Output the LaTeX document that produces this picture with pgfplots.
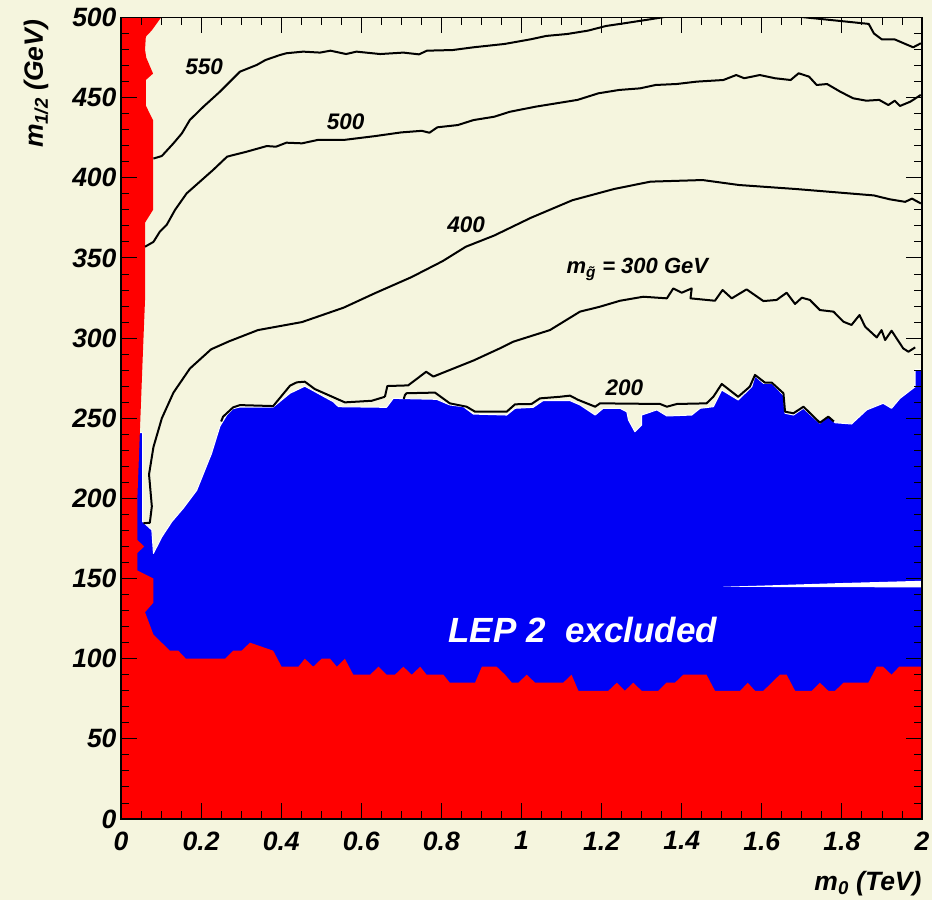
\documentclass[border=0pt]{standalone}
\usepackage{fontspec}
\setmainfont{Liberation Sans}
\usepackage{pgfplots}
\pgfplotsset{compat=1.18}
\definecolor{bgc}{RGB}{245,245,222}
\definecolor{myred}{RGB}{255,0,0}
\definecolor{myblue}{RGB}{0,0,245}
\newcommand{\bi}[1]{\fontsize{#1}{#1}\selectfont\bfseries\itshape}
\begin{document}
\begin{tikzpicture}
\path[use as bounding box, fill=bgc] (-121bp,-81bp) rectangle (811bp,819bp);
\begin{axis}[name=ax, at={(0,0)}, anchor=south west,
  width=801bp, height=801.5bp, scale only axis,
  xmin=0, xmax=2, ymin=0, ymax=500,
  xtick={0,0.2,0.4,0.6,0.8,1,1.2,1.4,1.6,1.8,2},
  ytick={0,50,100,150,200,250,300,350,400,450,500},
  minor x tick num=3, minor y tick num=4,
  major tick length=16bp, minor tick length=8bp,
  tick align=inside,
  tick style={black, line width=0.9bp},
  axis line style={black, line width=1.3bp},
  axis on top,
  /pgf/number format/assume math mode=true,
  ticklabel style={font={\bi{26.5bp}}},
  xticklabel style={yshift=-9bp},
  yticklabel style={xshift=-1bp},
]
% LEP 2 excluded (blue)
\addplot[fill=myblue, draw=white, line width=1bp] coordinates {
(0.03,241) (0.054,241) (0.054,185.5) (0.077,180.3) (0.081,165.7) (0.102,176) (0.127,185.5) (0.156,194) (0.189,205) (0.226,228) (0.247,245) (0.264,252) (0.280,256) (0.297,257) (0.380,257) (0.422,265.6) (0.459,270) (0.484,266.6) (0.530,260.3) (0.543,257.2) (0.663,256.8) (0.680,262.4) (0.788,261.8) (0.821,258.3) (0.855,257.2) (0.880,252.6) (0.963,252) (0.984,256.2) (1.029,256.8) (1.054,261) (1.121,261) (1.146,258.3) (1.184,252) (1.204,256.2) (1.246,256.2) (1.263,254) (1.267,249) (1.283,241.6) (1.300,245.8) (1.300,252) (1.338,255.2) (1.363,251.4) (1.425,252) (1.446,256.2) (1.479,257.2) (1.500,267.6) (1.541,261.4) (1.575,269.7) (1.583,276.4) (1.604,271.8) (1.625,271.8) (1.654,264.5) (1.658,253.1) (1.679,252) (1.704,256.2) (1.745,246.8) (1.766,251.4) (1.783,247.2) (1.824,246.4) (1.862,255.2) (1.903,259.3) (1.924,256.2) (1.945,262.4) (1.983,269.7) (1.983,280.5) (2.01,280.5) (2.01,60) (0.03,60)
} -- cycle;
% white streak
\addplot[fill=white, draw=none] coordinates {
(1.504,144.9) (1.6,145.6) (1.7,146.4) (1.8,147.2) (1.9,147.9) (2.0,148.6) (2.0,144.5) (1.504,144.8)
} -- cycle;
% red excluded region
\addplot[fill=myred, draw=none] coordinates {
(0,0) (0,500) (0.100,500) (0.077,492) (0.062,488) (0.060,480) (0.063,475) (0.080,465) (0.062,461) (0.062,445) (0.080,436) (0.080,380) (0.060,372) (0.060,324) (0.055,293) (0.047,241) (0.041,201) (0.041,174) (0.058,170) (0.041,166) (0.041,155) (0.081,150) (0.081,135) (0.060,129) (0.081,115) (0.122,105) (0.143,105) (0.162,100) (0.260,100) (0.280,105) (0.301,105) (0.322,110) (0.380,105) (0.401,95) (0.443,95) (0.459,100) (0.480,95) (0.501,100) (0.522,100) (0.539,95) (0.559,100) (0.580,90) (0.622,90) (0.643,95) (0.663,90) (0.684,90) (0.705,95) (0.726,90) (0.747,95) (0.763,90) (0.805,90) (0.821,85) (0.884,85) (0.901,95) (0.938,95) (0.959,90) (0.976,85) (0.992,85) (1.013,90) (1.034,85) (1.104,85) (1.125,90) (1.142,80) (1.217,80) (1.238,85) (1.258,80) (1.279,85) (1.300,80) (1.342,80) (1.362,85) (1.383,85) (1.404,90) (1.462,90) (1.483,80) (1.546,80) (1.565,85) (1.583,80) (1.604,80) (1.645,90) (1.662,90) (1.683,80) (1.725,80) (1.745,85) (1.766,80) (1.783,80) (1.804,85) (1.866,85) (1.887,95) (1.903,95) (1.924,90) (1.943,95) (2.01,95) (2.01,0)
} -- cycle;
% contours
\pgfplotsset{every axis plot/.append style={line join=round}}
\addplot[black, line width=2bp] coordinates {
(0.081,412) (0.102,413.6) (0.131,421.5) (0.152,427.7) (0.172,436.1) (0.206,444.4) (0.247,453.7) (0.297,466.2) (0.339,470.4) (0.361,473.5) (0.397,476.6) (0.413,477.7) (0.455,478.7) (0.497,478.1) (0.523,479.3) (0.562,477.2) (0.588,478.7) (0.647,477.2) (0.705,478.1) (0.744,477) (0.764,479.3) (0.828,479.7) (0.880,481.4) (0.958,483.5) (1.023,486.4) (1.062,488.5) (1.114,489.7) (1.166,491.8) (1.211,494.7) (1.257,496.4) (1.322,498.9) (1.374,501) (1.40,503) (1.65,503) (1.672,501) (1.867,496) (1.880,490) (1.900,486.3) (1.932,486.3) (1.978,481.4) (1.997,483.9)
};
\addplot[black, line width=2bp] coordinates {
(0.060,357) (0.081,360) (0.097,366.4) (0.114,370.6) (0.135,380) (0.164,390.3) (0.197,397.6) (0.230,404.9) (0.265,413.2) (0.314,416.3) (0.364,419.8) (0.387,419.4) (0.413,421.9) (0.452,421.5) (0.491,423.6) (0.556,423.6) (0.634,426) (0.699,428.3) (0.751,429.3) (0.770,428.1) (0.790,431.5) (0.841,432.9) (0.880,436) (0.932,438.1) (0.971,441.2) (1.036,444.4) (1.088,446.5) (1.140,448.6) (1.192,452.7) (1.244,454.8) (1.296,455.8) (1.335,457.9) (1.387,458.5) (1.438,460) (1.504,461) (1.536,464.1) (1.556,462.1) (1.595,464.1) (1.633,462.1) (1.672,461) (1.692,465.2) (1.718,463.1) (1.737,457.9) (1.763,458.5) (1.796,453.7) (1.828,449.6) (1.861,448.1) (1.893,448.6) (1.916,445.4) (1.932,448.1) (1.945,444.8) (1.971,447.5) (1.997,451.7)
};
\addplot[black, line width=2bp] coordinates {
(0.056,184.5) (0.072,184.8) (0.077,195) (0.070,215) (0.081,232) (0.102,250) (0.131,266) (0.172,281) (0.225,293) (0.270,298) (0.342,305) (0.452,310) (0.556,319) (0.634,328) (0.725,338) (0.803,348) (0.861,357) (0.932,364) (1.023,375) (1.127,386) (1.231,393) (1.322,397.6) (1.452,398.6) (1.543,395.5) (1.685,393) (1.880,389) (1.919,386.6) (1.958,385) (1.975,387) (1.997,384)
};
\addplot[black, line width=2bp] coordinates {
(0.659,263.4) (0.665,270.1) (0.717,270.5) (0.762,279) (0.780,276) (0.821,280.1) (0.880,286) (0.946,293.6) (0.980,297.8) (1.071,305) (1.146,316.5) (1.196,319.6) (1.246,323.3) (1.304,325.8) (1.363,324.8) (1.379,331) (1.400,328.3) (1.425,331) (1.422,324.8) (1.483,323.3) (1.502,330) (1.525,324.8) (1.562,330.4) (1.604,323.1) (1.637,323.8) (1.662,328.3) (1.683,321.3) (1.700,325.2) (1.720,323.8) (1.745,317.5) (1.779,316.5) (1.804,310.2) (1.824,308.2) (1.844,314.4) (1.858,307.1) (1.887,300.4) (1.899,305) (1.908,298.8) (1.924,304.6) (1.953,293.6) (1.966,291.5) (1.983,294.2)
};
\addplot[black, line width=2bp] coordinates {
(0.25,248) (0.255,251) (0.280,256.8) (0.297,258.2) (0.380,257.6) (0.422,270.3) (0.439,272.4) (0.459,272.8) (0.484,268.2) (0.522,264) (0.559,259.9) (0.626,260.9) (0.659,263.4)
};
\addplot[black, line width=2bp] coordinates {
(0.706,262) (0.709,264.5) (0.713,265.6) (0.784,266) (0.821,259.3) (0.863,257.2) (0.884,254.1) (0.963,254.1) (0.984,258.7) (1.025,258.9) (1.046,262.4) (1.096,263.4) (1.121,264.1) (1.142,261.4) (1.184,257.2) (1.196,259.3) (1.346,258.9) (1.363,257.2) (1.388,258.9) (1.462,259.3) (1.479,263.4) (1.500,271.4) (1.541,263.4) (1.570,269.7) (1.583,277) (1.608,272.2) (1.625,272.2) (1.654,265.6) (1.658,254.1) (1.679,253.1) (1.704,257.2) (1.745,247.2) (1.766,251) (1.78,248)
};
% labels
\node[anchor=base west, font={\bi{22.5bp}}] at (axis cs:0.152,464.7) {550};
\node[anchor=base west, font={\bi{22.5bp}}] at (axis cs:0.505,430.3) {500};
\node[anchor=base west, font={\bi{22.5bp}}] at (axis cs:0.806,365.6) {400};
\node[anchor=base west, font={\bi{22bp}}] at (axis cs:1.104,340.4) {m\textsubscript{\~{g}} = 300 GeV};
\node[anchor=base west, font={\bi{22.5bp}}] at (axis cs:1.201,264.5) {200};
\node[anchor=base west, font={\bi{35bp}}, text=white] at (axis cs:0.809,110.2) {LEP 2\ \ excluded};
\end{axis}
\node[rotate=90, anchor=east, font={\bi{26.5bp}}] at ([xshift=-85bp, yshift=1bp]ax.north west) {m\textsubscript{1/2} (GeV)};
\node[anchor=base east, font={\bi{26.5bp}}] at ([xshift=3bp, yshift=-71bp]ax.south east) {m\textsubscript{0} (TeV)};
\end{tikzpicture}
\end{document}
